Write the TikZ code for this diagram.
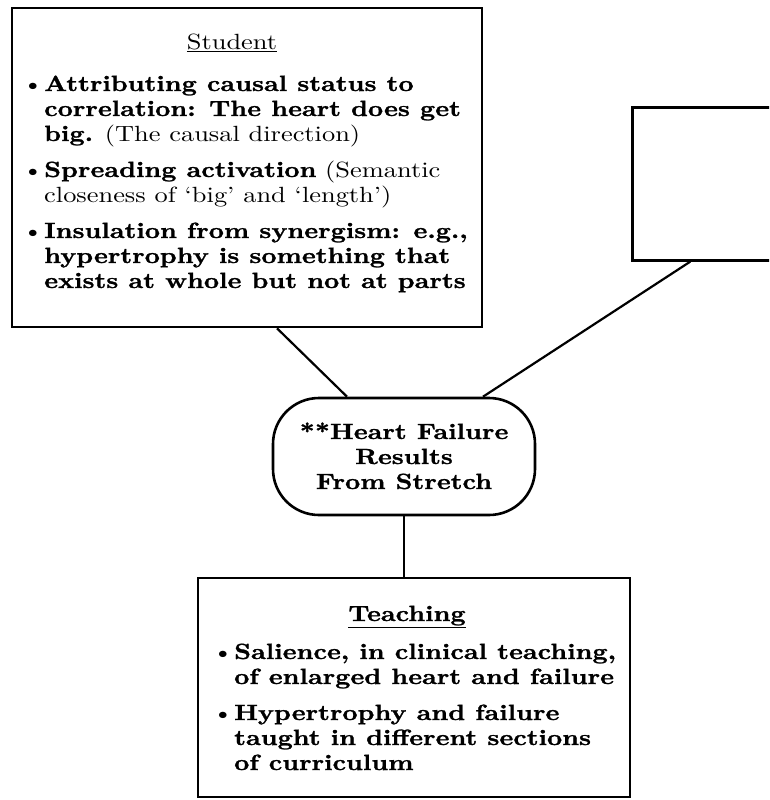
\documentclass[tikz,border=0pt]{standalone}
\usepackage{fontspec}
\setmainfont{lmroman10-regular.otf}[BoldFont=lmroman10-bold.otf, FakeStretch=1.2, BoldFeatures={FakeBold=1.2}]
\begin{document}
\begin{tikzpicture}[x=1pt,y=-1pt,
  box/.style={draw, line width=2.6pt, inner sep=0pt},
  conn/.style={line width=2.2pt},
  ln/.style={anchor=base west, inner sep=0pt, font=\fontsize{22}{25}\selectfont},
  ttl/.style={anchor=base, inner sep=0pt, font=\fontsize{22}{25}\selectfont},
  bul/.style={anchor=base, inner sep=0pt, font=\fontsize{22}{25}\selectfont}]
\path[use as bounding box, clip] (0,0) rectangle (769,800);
% boxes
\node[box, minimum width=470pt, minimum height=319pt] (student) at (247,167.5) {};
\node[box, minimum width=200pt, minimum height=153pt, anchor=north west] (other) at (631,106) {};
\node[box, rounded corners=46pt, minimum width=262pt, minimum height=117pt] (focus) at (404,456.5) {};
\node[box, minimum width=432pt, minimum height=219pt] (teach) at (414,687.5) {};
% connectors
\draw[conn] ([xshift=30pt]student.south) -- ([xshift=-57pt]focus.north);
\draw[conn] ([xshift=-42pt]other.south) -- ([xshift=79pt]focus.north);
\draw[conn] (focus.south) -- (teach.north -| focus.south);
% student text
\node[ttl] (stitle) at (232,49) {\underline{Student}};
\node[bul] (sb1) at (33,91) {\textbullet};
\node[ln] (s1) at (44,91) {\textbf{Attributing causal status to}};
\node[ln] (s2) at (44,116) {\textbf{correlation: The heart does get}};
\node[ln] (s3) at (44,141) {\textbf{big.} (The causal direction)};
\node[bul] (sb2) at (33,177) {\textbullet};
\node[ln] (s4) at (44,177) {\textbf{Spreading activation} (Semantic};
\node[ln] (s5) at (44,202) {closeness of `big' and `length')};
\node[bul] (sb3) at (33,238) {\textbullet};
\node[ln] (s6) at (44,238) {\textbf{Insulation from synergism: e.g.,}};
\node[ln] (s7) at (44,263) {\textbf{hypertrophy is something that}};
\node[ln] (s8) at (44,288) {\textbf{exists at whole but not at parts}};
% focus text
\node[ttl] (f1) at (404,439) {\textbf{**Heart Failure}};
\node[ttl] (f2) at (404,464) {\textbf{Results}};
\node[ttl] (f3) at (404,489) {\textbf{From Stretch}};
% teaching text
\node[ttl] (ttitle) at (407,621) {\underline{\textbf{Teaching}}};
\node[bul] (tb1) at (223,659) {\textbullet};
\node[ln] (t1) at (234,659) {\textbf{Salience, in clinical teaching,}};
\node[ln] (t2) at (234,684) {\textbf{of enlarged heart and failure}};
\node[bul] (tb2) at (223,720) {\textbullet};
\node[ln] (t3) at (234,720) {\textbf{Hypertrophy and failure}};
\node[ln] (t4) at (234,745) {\textbf{taught in different sections}};
\node[ln] (t5) at (234,770) {\textbf{of curriculum}};
\end{tikzpicture}
\end{document}
